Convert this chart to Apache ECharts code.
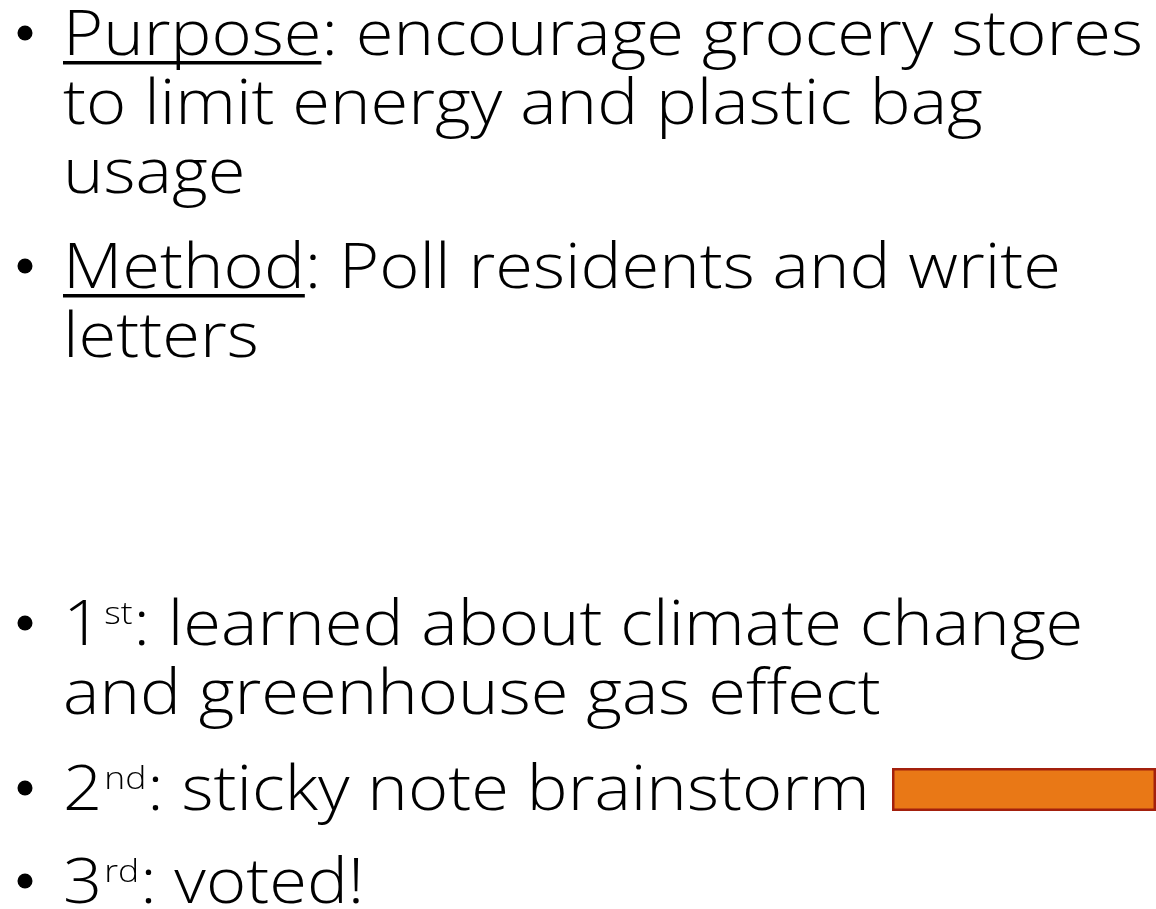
<!DOCTYPE html>
<html>
<head>
<meta charset="utf-8">
<script src="https://cdn.jsdelivr.net/npm/echarts@6/dist/echarts.min.js"></script>
<style>
  html, body { margin: 0; padding: 0; background: #fff; }
  #main { width: 1156px; height: 909px; }
</style>
</head>
<body>
<div id="main"></div>
<script>
'use strict';

// slide text: head (+ optional superscript) + tail, then wrapped lines
const bulletHeads = ['Purpose', 'Method', '1', '2', '3'];
const bulletSups = ['', '', 'st', 'nd', 'rd'];
const bulletTails = [': encourage grocery stores', ': Poll residents and write', ': learned about climate change', ': sticky note brainstorm', ': voted!'];
const bulletWraps = [['to limit energy and plastic bag', 'usage'], ['letters'], ['and greenhouse gas effect'], [], []];
const underlinedHeads = ['Purpose', 'Method'];

// the single orange bar next to "brainstorm"
const barCategories = ['brainstorm'];
const barValues = [1];

// layout
const FAMILY = '"Open Sans"';
const WEIGHT = 300;
const MAIN_SIZE = 62;
const SUP_SIZE = 32;
const SUP_RAISE = 21;
const TEXT_LEFT = 63;
const FIRST_LINE_RIGHT = 1143;
const baselines = [55, 288, 645, 810, 903];
const LINE_GAP = 69;

const ctx = document.createElement('canvas').getContext('2d');
function fontOf(size) {
  return `${WEIGHT} ${size}px ${FAMILY}`;
}
function measure(text, size) {
  ctx.font = fontOf(size);
  return ctx.measureText(text).width;
}
// distance from the 'middle' line down to the alphabetic baseline
function midToBase(size) {
  ctx.font = fontOf(size);
  ctx.textBaseline = 'middle';
  const d = ctx.measureText('H').actualBoundingBoxDescent;
  ctx.textBaseline = 'alphabetic';
  return d;
}

// squeeze/stretch text horizontally so the first line spans like the original
const sx = (FIRST_LINE_RIGHT - TEXT_LEFT) / measure(bulletHeads[0] + bulletTails[0], MAIN_SIZE);

function textEl(text, x, baseline, size) {
  return {
    type: 'text',
    x: x,
    y: baseline - midToBase(size),
    scaleX: sx,
    silent: true,
    style: {
      text: text,
      font: fontOf(size),
      fill: '#000',
      verticalAlign: 'middle'
    }
  };
}

const elements = [];
bulletHeads.forEach((head, i) => {
  const base = baselines[i];
  elements.push({ type: 'circle', silent: true, shape: { cx: 25, cy: base - 22, r: 7.5 }, style: { fill: '#000' } });

  let x = TEXT_LEFT;
  elements.push(textEl(head, x, base, MAIN_SIZE));
  const headW = measure(head, MAIN_SIZE) * sx;
  if (underlinedHeads.indexOf(head) >= 0) {
    elements.push({ type: 'rect', silent: true, shape: { x: x, y: base + 6, width: headW, height: 3.5 }, style: { fill: '#000' } });
  }
  x += headW;
  const sup = bulletSups[i];
  if (sup) {
    elements.push(textEl(sup, x + 2, base - SUP_RAISE, SUP_SIZE));
    x += measure(sup, SUP_SIZE) * sx + 3;
  }
  elements.push(textEl(bulletTails[i], x, base, MAIN_SIZE));

  bulletWraps[i].forEach((line, j) => {
    elements.push(textEl(line, TEXT_LEFT, base + LINE_GAP * (j + 1), MAIN_SIZE));
  });
});

const chart = echarts.init(document.getElementById('main'), null, { renderer: 'canvas' });
chart.setOption({
  animation: false,
  backgroundColor: '#fff',
  grid: { left: 892, right: -40, top: 767, height: 45 },
  xAxis: { type: 'value', min: 0, max: 1, show: false },
  yAxis: { type: 'category', data: barCategories, show: false },
  series: [{
    type: 'bar',
    data: barValues,
    barWidth: 43,
    silent: true,
    itemStyle: { color: '#E97816', borderColor: '#A3200D', borderWidth: 2.5 }
  }],
  graphic: elements
});
</script>
</body>
</html>
